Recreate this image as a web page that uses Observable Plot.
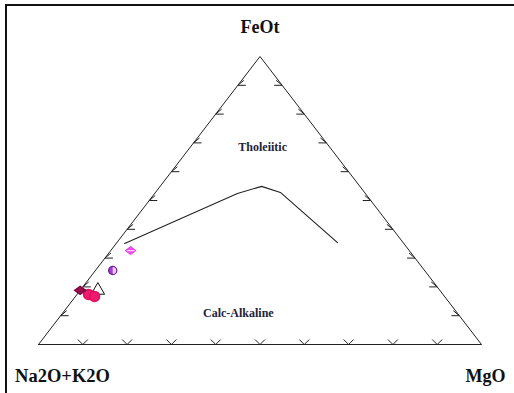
<!DOCTYPE html>
<html>
<head>
<meta charset="utf-8">
<script src="https://cdn.jsdelivr.net/npm/d3@7"></script>
<script src="https://cdn.jsdelivr.net/npm/@observablehq/plot@0.6"></script>
<style>
  html, body { margin: 0; padding: 0; background: #fff; overflow: hidden; }
  #wrap { position: relative; width: 514px; height: 393px; overflow: hidden; }
  #frame { position: absolute; left: 5px; top: 4px; width: 700px; height: 700px;
           border-left: 2px solid #111; border-top: 2px solid #111; pointer-events: none; }
</style>
</head>
<body>
<div id="wrap"><div id="frame"></div></div>
<script>
// Vertex labels (A = bottom-left, M = bottom-right, F = apex)
const vertexLabels = ["Na2O+K2O", "MgO", "FeOt"];
// Tick fractions along each edge
const tickFractions = [0.1, 0.2, 0.3, 0.4, 0.5, 0.6, 0.7, 0.8, 0.9];

// Irvine & Baragar boundary (ternary %)
const curveA = [63.0, 28.9, 22.2, 19.0, 14.8];
const curveF = [35.1, 52.4, 54.9, 52.8, 35.4];
const curveM = [1.9, 18.7, 22.9, 28.2, 49.8];

// Field labels
const fieldNames = ["Tholeiitic", "Calc-Alkaline"];
const fieldA = [15.2, 49.5];
const fieldF = [68.4, 10.8];
const fieldM = [16.4, 39.7];

// Samples (ternary %)
const sampleGroup = ["g1", "g2", "g3", "g4", "g4", "g5"];
const sampleA = [62.9, 70.4, 81.2, 80.0, 79.0, 77.2];
const sampleF = [32.6, 25.7, 18.8, 17.4, 16.7, 18.8];
const sampleM = [4.5, 3.9, 0.0, 2.6, 4.3, 4.0];

const toXY = (a, f, m) => {
  const s = a + f + m;
  return {x: m / s + 0.5 * f / s, y: f / s};
};

// Build tables
const vertices = [toXY(1, 0, 0), toXY(0, 0, 1), toXY(0, 1, 0)];
const outline = [vertices[0], vertices[1], vertices[2], vertices[0]];
const curve = curveA.map((a, i) => toXY(a, curveF[i], curveM[i]));
const fields = fieldNames.map((n, i) => ({...toXY(fieldA[i], fieldF[i], fieldM[i]), name: n}));
const samples = sampleGroup.map((g, i) => ({...toXY(sampleA[i], sampleF[i], sampleM[i]), group: g}));

// Ticks: base (A-M), left (A-F), right (M-F)
const baseTicks = tickFractions.map(t => toXY(1 - t, 0, t));
const leftTicks = tickFractions.map(t => toXY(1 - t, t, 0));
const rightTicks = tickFractions.map(t => toXY(0, t, 1 - t));

const vSym = {draw(c) { c.moveTo(-5, -5); c.lineTo(0, 0); c.lineTo(5, -5); }};
const lSym = {draw(c) { c.moveTo(8, 0); c.lineTo(0, 0); c.lineTo(6, -5); }};
const rSym = {draw(c) { c.moveTo(-8, 0); c.lineTo(0, 0); c.lineTo(-6, -5); }};
const wideDiamond = {draw(c) { c.moveTo(-5.5, 0); c.lineTo(0, -4); c.lineTo(5.5, 0); c.lineTo(0, 4); c.closePath(); }};
const bandSym = {draw(c) { c.moveTo(-4, 0); c.lineTo(4, 0); }};
const halfSym = {draw(c) { c.moveTo(0, -3.5); c.arc(0, 0, 3.5, -Math.PI / 2, Math.PI / 2); c.closePath(); }};

const font = "'Liberation Serif', 'DejaVu Serif', serif";

const chart = Plot.plot({
  width: 514,
  height: 393,
  marginLeft: 38,
  marginRight: 33,
  marginTop: 56,
  marginBottom: 49,
  x: {domain: [0, 1], axis: null},
  y: {domain: [0, 1], axis: null},
  style: {background: "transparent", fontFamily: font},
  marks: [
    Plot.line(outline, {x: "x", y: "y", stroke: "#222", strokeWidth: 1}),
    Plot.line(curve, {x: "x", y: "y", stroke: "#222", strokeWidth: 1.1}),
    Plot.dot(baseTicks, {x: "x", y: "y", symbol: vSym, fill: "none", stroke: "#222", strokeWidth: 1}),
    Plot.dot(leftTicks, {x: "x", y: "y", symbol: lSym, fill: "none", stroke: "#222", strokeWidth: 1}),
    Plot.dot(rightTicks, {x: "x", y: "y", symbol: rSym, fill: "none", stroke: "#222", strokeWidth: 1}),
    // samples
    Plot.dot(samples.filter(d => d.group === "g1"), {x: "x", y: "y", symbol: wideDiamond, fill: "#f050ee", stroke: "#d030d0", strokeWidth: 0.8}),
    Plot.dot(samples.filter(d => d.group === "g1"), {x: "x", y: "y", symbol: bandSym, stroke: "#ffc8ff", strokeWidth: 1.2}),
    Plot.dot(samples.filter(d => d.group === "g2"), {x: "x", y: "y", symbol: "circle", r: 4, fill: "#a040c8", stroke: "#7a20a0"}),
    Plot.dot(samples.filter(d => d.group === "g2"), {x: "x", y: "y", symbol: halfSym, fill: "#e8c8f4", stroke: "none"}),
    Plot.dot(samples.filter(d => d.group === "g5"), {x: "x", y: "y", symbol: "triangle", r: 5, fill: "white", stroke: "#111", strokeWidth: 1}),
    Plot.dot(samples.filter(d => d.group === "g4"), {x: "x", y: "y", symbol: "circle", r: 5, fill: "#f01a6e", stroke: "#e0105e"}),
    Plot.dot(samples.filter(d => d.group === "g3"), {x: "x", y: "y", symbol: wideDiamond, fill: "#98104e", stroke: "#800a40"}),
    // field labels
    Plot.text(fields, {x: "x", y: "y", text: "name", fontSize: 12, fontWeight: "bold", fill: "#22223a", fontFamily: font}),
    // vertex labels
    Plot.text([vertices[2]], {x: "x", y: "y", text: () => vertexLabels[2], dy: -29, fontSize: 18, fontWeight: "bold", fill: "#111", fontFamily: font}),
    Plot.text([vertices[0]], {x: "x", y: "y", text: () => vertexLabels[0], dx: 24, dy: 32, fontSize: 18.5, fontWeight: "bold", fill: "#111", fontFamily: font}),
    Plot.text([vertices[1]], {x: "x", y: "y", text: () => vertexLabels[1], dx: 4, dy: 32, fontSize: 18, fontWeight: "bold", fill: "#111", fontFamily: font})
  ]
});
chart.style.position = "absolute";
chart.style.left = "0px";
chart.style.top = "0px";
document.getElementById("wrap").prepend(chart);
</script>
</body>
</html>
